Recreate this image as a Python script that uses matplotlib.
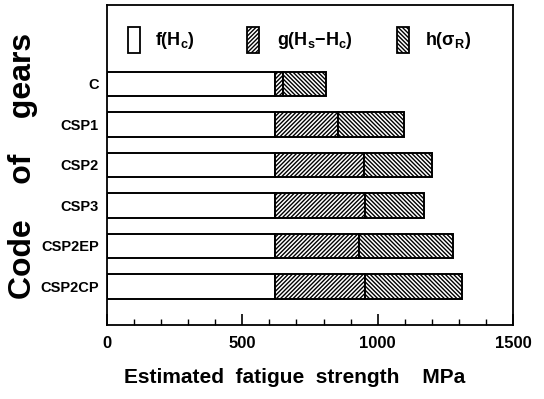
import matplotlib
matplotlib.use("Agg")
import matplotlib.pyplot as plt
from matplotlib.patches import Rectangle
from matplotlib.ticker import MultipleLocator

plt.rcParams['font.family'] = ['Liberation Sans', 'DejaVu Sans']
plt.rcParams['font.weight'] = 'bold'
plt.rcParams['mathtext.default'] = 'regular'
plt.rcParams['hatch.linewidth'] = 1.0

# data (MPa)
codes = ['C', 'CSP1', 'CSP2', 'CSP3', 'CSP2EP', 'CSP2CP']
f_hc = [620, 620, 620, 620, 620, 620]
g_hs_hc = [29, 235, 329, 335, 311, 333]
h_sr = [160, 242, 253, 216, 347, 357]
legend_labels = [r'f(H$_c$)', r'g(H$_s$$-$H$_c$)', r'h($\sigma_R$)']

hatches = ['', '/' * 8, '\\' * 8]

fig = plt.figure(figsize=(5.44, 3.99), dpi=100)
ax = fig.add_axes([0.1967, 0.1855, 0.7463, 0.802])

ypos = list(range(len(codes)))
left3 = [a + b for a, b in zip(f_hc, g_hs_hc)]

kw = dict(height=0.6, edgecolor='black', linewidth=1.4, color='white')
ax.barh(ypos, f_hc, hatch=hatches[0], **kw)
ax.barh(ypos, g_hs_hc, left=f_hc, hatch=hatches[1], **kw)
ax.barh(ypos, h_sr, left=left3, hatch=hatches[2], **kw)

ax.set_xlim(0, 1500)
ax.set_ylim(5.95, -1.95)
ax.set_yticks(ypos)
ax.set_yticklabels(codes, fontsize=10.5, fontweight='bold')
ax.tick_params(axis='y', length=0, pad=6)

ax.xaxis.set_major_locator(MultipleLocator(500))
ax.xaxis.set_minor_locator(MultipleLocator(100))
ax.tick_params(axis='x', which='major', direction='in', length=8, width=1.2, labelsize=12, pad=8)
ax.tick_params(axis='x', which='minor', direction='in', length=4, width=1.0)
for lab in ax.get_xticklabels():
    lab.set_fontweight('bold')

for sp in ax.spines.values():
    sp.set_linewidth(1.3)

ax.set_xlabel('Estimated  fatigue  strength    MPa', fontsize=15, fontweight='bold', labelpad=12)
ax.xaxis.set_label_coords(0.463, -0.135)
fig.text(0.042, 0.585, 'Code    of    gears', rotation=90, fontsize=23, fontweight='bold',
         ha='center', va='center')

# legend drawn by hand so the boxes sit where they do in the original
box_x = [0.052, 0.345, 0.714]
text_x = [0.118, 0.419, 0.783]
for bx, tx, ht, lab in zip(box_x, text_x, hatches, legend_labels):
    ax.add_patch(Rectangle((bx, 0.85), 0.03, 0.081, transform=ax.transAxes,
                           facecolor='white', edgecolor='black', linewidth=1.3, hatch=ht))
    ax.text(tx, 0.89, lab, transform=ax.transAxes, fontsize=13, fontweight='bold',
            ha='left', va='center')

fig.savefig('out.png', dpi=100)
